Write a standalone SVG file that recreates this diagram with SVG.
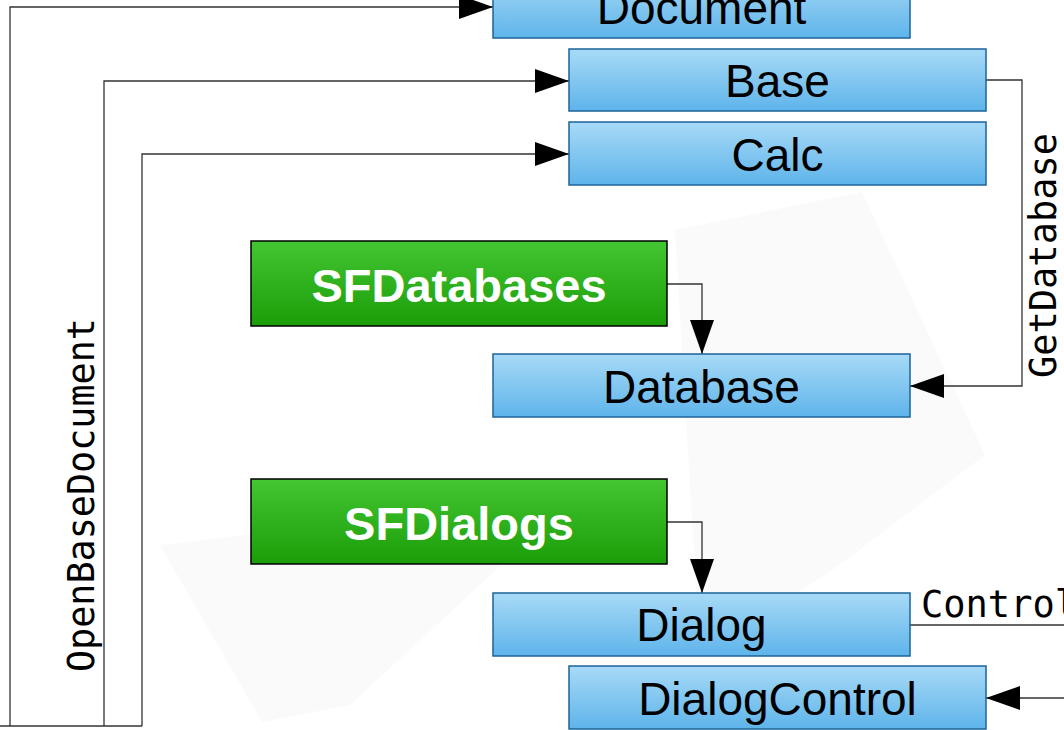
<svg xmlns="http://www.w3.org/2000/svg" width="1064" height="730" viewBox="0 0 1064 730">
  <style>
    .cls rect { stroke-width: 1.5; }
    .svc rect { fill: url(#gBlue); stroke: #1d6499; }
    .lib rect { fill: url(#gGreen); stroke: #000; }
    .svc text { font-family: "Liberation Sans", Arial, sans-serif; font-size: 46px; fill: #000; text-anchor: middle; }
    .lib text { font-family: "Liberation Sans", Arial, sans-serif; font-size: 47px; font-weight: bold; fill: #fff; text-anchor: middle; }
    .edge { fill: none; stroke: #333; stroke-width: 1.3; }
    .lbl { font-family: "DejaVu Sans Mono", "Liberation Mono", monospace; font-size: 37px; fill: #000; }
  </style>
  <defs>
    <linearGradient id="gBlue" x1="0" y1="0" x2="0" y2="1">
      <stop offset="0" stop-color="#a8daf7"/>
      <stop offset="1" stop-color="#5eb4ea"/>
    </linearGradient>
    <linearGradient id="gGreen" x1="0" y1="0" x2="0" y2="1">
      <stop offset="0" stop-color="#44c633"/>
      <stop offset="1" stop-color="#1a9d07"/>
    </linearGradient>
    <marker id="arrow" markerUnits="userSpaceOnUse" markerWidth="34" markerHeight="24" refX="34" refY="12" orient="auto">
      <path d="M0,0 L34,12 L0,24 Z" fill="#000"/>
    </marker>
  </defs>

  <rect x="0" y="0" width="1064" height="730" fill="#fff"/>

  <!-- faint background shapes -->
  <g fill="#fafafa">
    <polygon points="675,230 862,192 985,455 830,572 700,655"/>
    <polygon points="160,545 575,497 350,705 262,722"/>
  </g>

  <!-- connectors -->
  <g id="connectors">
    <path class="edge" d="M0,726 H142"/>
    <path class="edge" d="M10,726 V7 H493" marker-end="url(#arrow)"/>
    <path class="edge" d="M104,726 V81 H569" marker-end="url(#arrow)"/>
    <path class="edge" d="M142,726 V154 H569" marker-end="url(#arrow)"/>
    <text class="lbl" transform="translate(94,672) rotate(-90)" textLength="354" lengthAdjust="spacingAndGlyphs">OpenBaseDocument</text>

    <path class="edge" d="M986,80 H1022 V386 H910" marker-end="url(#arrow)"/>
    <text class="lbl" transform="translate(1056,378) rotate(-90)" textLength="245" lengthAdjust="spacingAndGlyphs">GetDatabase</text>

    <path class="edge" d="M667,284 H702 V354" marker-end="url(#arrow)"/>
    <path class="edge" d="M667,522 H702 V593" marker-end="url(#arrow)"/>

    <path class="edge" d="M910,625 H1064"/>
    <text class="lbl" x="921" y="617" textLength="156" lengthAdjust="spacingAndGlyphs">Control</text>
    <path class="edge" d="M1064,698 H986" marker-end="url(#arrow)"/>
  </g>

  <!-- nodes -->
  <g id="document" class="cls svc">
    <rect x="493" y="-25" width="417" height="63"/>
    <text x="701.5" y="24">Document</text>
  </g>
  <g id="base" class="cls svc">
    <rect x="569" y="49" width="417" height="62"/>
    <text x="777.5" y="97">Base</text>
  </g>
  <g id="calc" class="cls svc">
    <rect x="569" y="122" width="417" height="63"/>
    <text x="777.5" y="171">Calc</text>
  </g>
  <g id="sfdatabases" class="cls lib">
    <rect x="251" y="241" width="416" height="85"/>
    <text x="459" y="302">SFDatabases</text>
  </g>
  <g id="database" class="cls svc">
    <rect x="493" y="354" width="417" height="63"/>
    <text x="701.5" y="403">Database</text>
  </g>
  <g id="sfdialogs" class="cls lib">
    <rect x="251" y="479" width="416" height="85"/>
    <text x="459" y="540">SFDialogs</text>
  </g>
  <g id="dialog" class="cls svc">
    <rect x="493" y="593" width="417" height="63"/>
    <text x="701.5" y="641">Dialog</text>
  </g>
  <g id="dialogcontrol" class="cls svc">
    <rect x="569" y="666" width="417" height="63"/>
    <text x="777.5" y="715">DialogControl</text>
  </g>
</svg>
